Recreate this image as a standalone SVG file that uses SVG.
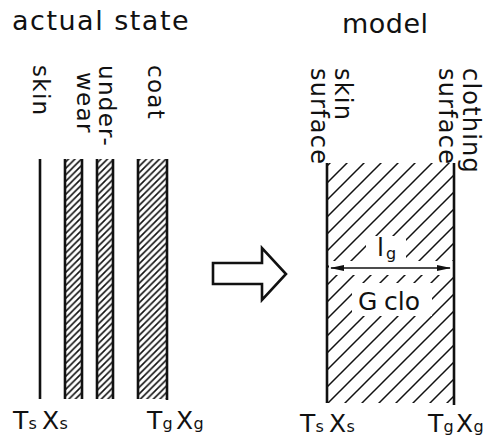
<svg xmlns="http://www.w3.org/2000/svg" width="488" height="441" viewBox="0 0 488 441">
<style>
text{font-family:"DejaVu Sans","Liberation Sans",sans-serif;fill:#111}
.title{font-size:27px}
.vt{font-size:23px;letter-spacing:1.3px}
.vm{font-size:24px;letter-spacing:1.2px}
.lab{font-size:25px}
.sub{font-size:16px}
.edge{stroke:#111;stroke-width:2.6;fill:none}
.thin{stroke:#111;stroke-width:1.5;fill:none}
</style>
<defs>
<pattern id="hatchFine" patternUnits="userSpaceOnUse" width="6.5" height="6.5">
<path d="M-1,7.5 L7.5,-1 M-2,2 L2,-2 M4.5,8.5 L8.5,4.5" stroke="#111" stroke-width="1.6"/>
</pattern>
<pattern id="hatchWide" patternUnits="userSpaceOnUse" width="17" height="17">
<path d="M-1,18 L18,-1 M-3,3 L3,-3 M14,20 L20,14" stroke="#111" stroke-width="1.5"/>
</pattern>
<mask id="labelGap">
<rect x="0" y="0" width="488" height="441" fill="#fff"/>
<rect x="366" y="236" width="40" height="26" fill="#000"/>
<rect x="329" y="261" width="124" height="14" fill="#000"/>
<rect x="352" y="283" width="80" height="33" fill="#000"/>
</mask>
<marker id="ah" markerWidth="14" markerHeight="8" refX="13" refY="4" orient="auto-start-reverse" markerUnits="userSpaceOnUse">
<path d="M0,1 L14,4 L0,7 Z" fill="#111"/>
</marker>
</defs>

<g id="titles">
<text class="title" x="12" y="30" letter-spacing="1.5">actual state</text>
<text class="title" x="342" y="33" letter-spacing="0.5">model</text>
</g>

<g id="skin-actual">
<text class="vt" transform="translate(33,65) rotate(90)">skin</text>
<line class="edge" x1="40" y1="159" x2="40" y2="399"/>
</g>

<g id="underwear">
<text class="vt" transform="translate(99,65) rotate(90)">under-</text>
<text class="vt" transform="translate(77,72) rotate(90)">wear</text>
<rect x="65" y="159" width="17" height="240" fill="url(#hatchFine)"/>
<line class="edge" x1="65" y1="159" x2="65" y2="399"/>
<line class="edge" x1="82" y1="159" x2="82" y2="399"/>
<rect x="97" y="159" width="16" height="240" fill="url(#hatchFine)"/>
<line class="edge" x1="97" y1="159" x2="97" y2="399"/>
<line class="edge" x1="113" y1="159" x2="113" y2="399"/>
</g>

<g id="coat">
<text class="vt" transform="translate(148,65) rotate(90)">coat</text>
<rect x="138" y="159" width="29" height="240" fill="url(#hatchFine)"/>
<line class="edge" x1="138" y1="159" x2="138" y2="399"/>
<line class="edge" x1="167" y1="159" x2="167" y2="400" stroke-width="3"/>
</g>

<g id="labels-actual">
<text class="lab" x="13" y="429">T</text><text class="sub" x="28.5" y="429">s</text>
<text class="lab" x="42" y="429">X</text><text class="sub" x="59.5" y="429">s</text>
<text class="lab" x="147" y="429">T</text><text class="sub" x="162.5" y="429">g</text>
<text class="lab" x="176" y="429">X</text><text class="sub" x="193.5" y="429">g</text>
</g>

<g id="transform-arrow">
<polygon class="edge" points="213,263 262,263 262,248 286,274 262,300 262,284 213,284" stroke-width="2.4"/>
</g>

<g id="model-layer">
<rect x="328" y="163" width="125" height="240" fill="url(#hatchWide)" mask="url(#labelGap)"/>
<line class="edge" x1="327" y1="163" x2="327" y2="403" stroke-width="3"/>
<line class="edge" x1="454" y1="163" x2="454" y2="405" stroke-width="3"/>
<text class="lab" x="377" y="256" font-size="26">l</text><text class="sub" x="386" y="259">g</text>
<text class="lab" x="358" y="310" font-size="26">G</text><text class="lab" x="384" y="310" font-size="24">clo</text>
</g>

<g id="skin-surface">
<text class="vm" transform="translate(335,68) rotate(90)">skin</text>
<text class="vm" transform="translate(311,68) rotate(90)">surface</text>
</g>

<g id="clothing-surface">
<text class="vm" transform="translate(463,68) rotate(90)">clothing</text>
<text class="vm" transform="translate(439,68) rotate(90)">surface</text>
</g>

<g id="labels-model">
<text class="lab" x="300" y="432">T</text><text class="sub" x="315.5" y="432">s</text>
<text class="lab" x="329" y="432">X</text><text class="sub" x="346.5" y="432">s</text>
<text class="lab" x="428" y="432">T</text><text class="sub" x="443.5" y="432">g</text>
<text class="lab" x="456" y="432">X</text><text class="sub" x="473.5" y="432">g</text>
</g>

<g id="connectors">
<line class="thin" x1="331" y1="268" x2="450" y2="268" marker-start="url(#ah)" marker-end="url(#ah)"/>
</g>
</svg>
